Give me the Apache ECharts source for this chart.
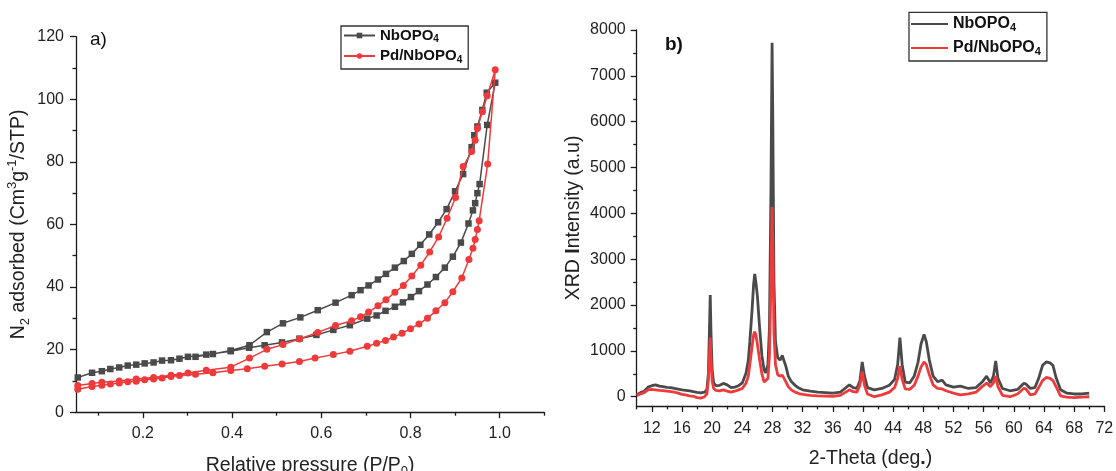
<!DOCTYPE html>
<html>
<head>
<meta charset="utf-8">
<script src="https://cdn.jsdelivr.net/npm/echarts@6/dist/echarts.min.js"></script>
<style>
html,body{margin:0;padding:0;background:#fff;}
#chart{width:1116px;height:471px;}
</style>
</head>
<body>
<div id="chart"></div>
<script>
// ---------- (a) N2 isotherms ----------
const nbAdsX = [0.054,0.086,0.108,0.127,0.147,0.166,0.185,0.204,0.224,0.243,0.263,0.282,0.301,0.342,0.397,0.438,0.473,0.512,0.551,0.589,0.627,0.664,0.703,0.724,0.744,0.765,0.783,0.801,0.819,0.838,0.857,0.877,0.895,0.913,0.930,0.940,0.945,0.950,0.955,0.972,0.990];
const nbAdsY = [11.1,12.6,13.1,13.8,14.3,14.9,15.2,15.6,15.9,16.5,16.6,17.1,17.7,18.4,19.5,20.6,21.4,22.3,23.5,24.7,26.3,27.8,29.9,30.9,32.4,33.7,35.1,36.8,38.7,40.8,43.2,46.2,49.7,54.2,60.3,64.5,66.8,70.0,72.9,91.8,105.3];
const nbDesX = [0.971,0.961,0.950,0.943,0.937,0.918,0.900,0.881,0.862,0.842,0.822,0.803,0.785,0.765,0.745,0.727,0.706,0.688,0.668,0.632,0.592,0.553,0.514,0.478,0.439,0.397,0.357,0.318];
const nbDesY = [102.1,96.6,91.3,88.5,84.7,76.1,70.6,64.9,60.7,56.8,53.5,50.6,48.3,46.2,44.2,42.4,40.5,39.0,37.4,35.0,32.6,30.3,28.4,25.6,21.4,19.7,18.6,17.7];

const pdAdsX = [0.054,0.086,0.108,0.127,0.147,0.166,0.185,0.204,0.224,0.243,0.263,0.282,0.318,0.357,0.397,0.434,0.473,0.512,0.551,0.586,0.627,0.664,0.703,0.724,0.744,0.762,0.781,0.800,0.819,0.838,0.857,0.877,0.895,0.915,0.931,0.940,0.945,0.950,0.954,0.973,0.990];
const pdAdsY = [7.3,8.2,8.6,9.0,9.3,9.7,9.9,10.4,10.6,10.9,11.4,11.7,12.1,12.6,13.3,13.9,14.7,15.4,16.2,17.3,18.4,19.5,21.1,22.0,22.9,24.0,25.2,26.7,28.2,30.0,32.4,35.0,38.5,42.9,48.8,52.4,55.2,58.4,61.2,79.3,109.4];
const pdDesX = [0.972,0.961,0.950,0.945,0.937,0.918,0.901,0.882,0.863,0.843,0.823,0.803,0.784,0.765,0.745,0.727,0.706,0.688,0.668,0.632,0.592,0.551,0.514,0.478,0.439,0.397,0.342,0.301,0.263,0.224,0.185,0.147,0.108,0.086,0.054];
const pdDesY = [101.1,96.0,90.7,86.9,83.3,78.5,68.6,62.0,56.0,51.2,47.0,43.5,40.5,38.3,35.9,34.0,32.0,30.5,29.2,27.7,25.5,23.4,21.6,20.1,17.3,14.4,13.4,12.5,11.8,11.1,10.6,10.0,9.6,9.2,8.5];

const isoMajorX = [0.2,0.4,0.6,0.8,1.0];
const isoMinorX = [0.1,0.3,0.5,0.7,0.9,1.1];

// ---------- (b) XRD ----------
const theta = [10.0,10.5,11.0,11.5,12.0,12.5,13.0,13.5,14.0,14.5,
15.0,15.5,16.0,16.5,17.0,17.5,18.0,18.5,19.0,19.3,
19.5,19.65,19.75,19.85,20.0,20.2,20.5,21.0,21.5,22.0,
22.5,23.0,23.5,24.0,24.5,24.8,25.0,25.3,25.5,25.65,
25.8,26.0,26.3,26.6,26.9,27.1,27.4,27.6,27.8,27.95,
28.05,28.2,28.4,28.7,29.0,29.3,29.5,29.8,30.1,30.5,
31.0,31.5,32.0,33.0,34.0,35.0,36.0,37.0,37.6,38.2,
38.7,39.2,39.6,39.9,40.2,40.6,41.5,42.5,43.5,44.2,
44.6,44.9,45.2,45.6,46.2,46.8,47.3,47.7,48.1,48.4,
48.8,49.3,49.9,50.5,51.0,52.0,52.9,54.0,55.0,55.8,
56.4,56.9,57.3,57.6,57.9,58.5,59.5,60.5,61.3,61.6,
62.2,62.8,63.3,63.8,64.3,64.8,65.2,65.6,66.2,67.0,
68.0,69.0,70.0];
const xrdNb = [40,90,120,210,240,260,230,220,205,200,
180,165,150,140,130,110,95,85,100,150,
500,1500,2220,1400,600,300,240,250,290,260,
200,210,240,300,520,800,1200,1900,2450,2680,
2500,2200,1500,900,580,520,700,1500,4500,7720,
6000,2500,1200,850,800,900,880,650,450,330,
250,190,150,120,100,90,80,100,180,260,
200,180,350,760,450,200,150,180,250,380,
700,1290,700,320,300,450,750,1150,1360,1200,
800,450,330,360,260,210,230,180,200,320,
450,300,450,780,400,180,130,160,290,280,
180,200,400,680,760,740,680,420,150,80,
60,60,80];
const xrdPd = [30,60,90,150,160,150,140,135,120,110,
100,80,50,40,20,10,-20,-30,0,60,
350,900,1290,800,350,180,140,130,150,120,
100,120,150,180,300,450,700,1100,1350,1420,
1350,1150,800,500,320,290,400,900,2500,4140,
3200,1400,700,480,450,470,430,320,220,150,
100,70,50,30,20,15,10,30,90,150,
110,100,250,550,250,60,0,40,100,200,
400,670,380,170,160,250,450,650,760,700,
480,260,180,170,130,80,40,60,100,220,
300,220,300,450,220,30,0,60,180,170,
40,60,200,350,420,400,350,220,20,-10,
-20,-10,0];

const xrdMajorX = [12,16,20,24,28,32,36,40,44,48,52,56,60,64,68,72];
const xrdMinorX = [10,14,18,22,26,30,34,38,42,46,50,54,58,62,66,70];
const xrdMajorY = [0,1000,2000,3000,4000,5000,6000,7000,8000];
const xrdMinorY = [500,1500,2500,3500,4500,5500,6500,7500];

// ---------- build ----------
function zip(xs, ys){ return xs.map((x,i)=>[x, ys[i]]); }
const FONT = 'Liberation Sans, Arial, sans-serif';
const GRAY = '#4a4a4a', RED = '#ef3a3c', AX = '#1a1a1a';

const nameRich = {
  n:{fontSize:19.5,fontFamily:FONT,color:'#222',lineHeight:26},
  b:{fontSize:19.5,fontFamily:FONT,color:'#222',fontWeight:'bold',lineHeight:26},
  sub:{fontSize:13,fontFamily:FONT,color:'#222',lineHeight:13,verticalAlign:'bottom'},
  sup:{fontSize:13,fontFamily:FONT,color:'#222',lineHeight:13,verticalAlign:'top'}
};
const legRich = (fs)=>({
  t:{fontSize:fs,fontFamily:FONT,fontWeight:'bold',color:'#111',lineHeight:18},
  s:{fontSize:Math.round(fs*0.66),fontFamily:FONT,fontWeight:'bold',color:'#111',lineHeight:9,verticalAlign:'bottom'}
});
function legFmt(name){
  const base = name.replace(/ \(.\)$/,'').replace(/4$/,'');
  return '{t|' + base + '}{s|4}';
}
const labelStyle = {color:'#222',fontSize:16,fontFamily:FONT};

const option = {
  backgroundColor:'#fff',
  animation:false,
  grid:[
    {left:76, top:36.7, width:468.3, height:375.5, outerBoundsMode:'none', containLabel:false},
    {left:636.7, top:30, width:467.6, height:375.9, outerBoundsMode:'none', containLabel:false}
  ],
  xAxis:[
    {gridIndex:0, type:'value', min:0.05, max:1.1, position:'bottom',
     name:'{n|Relative pressure (P/P}{sub|0}{n|)}', nameLocation:'middle', nameGap:40,
     nameTextStyle:{rich:nameRich},
     axisLine:{onZero:false, lineStyle:{color:AX,width:1.3}},
     axisTick:{customValues:isoMajorX, length:6, lineStyle:{color:AX,width:1.3}},
     axisLabel:Object.assign({customValues:isoMajorX, margin:13, formatter:v=>v.toFixed(1)}, labelStyle),
     splitLine:{show:false}},
    {gridIndex:0, type:'value', min:0.05, max:1.1, position:'bottom',
     axisLine:{show:false, onZero:false},
     axisTick:{customValues:isoMinorX, length:3.5, lineStyle:{color:AX,width:1.3}},
     axisLabel:{show:false}, splitLine:{show:false}},
    {gridIndex:1, type:'value', min:10, max:72, position:'bottom',
     name:'{n|2-Theta (deg}{b|.}{n|)}', nameLocation:'middle', nameGap:40,
     nameTextStyle:{rich:nameRich},
     axisLine:{onZero:false, lineStyle:{color:AX,width:1.3}},
     axisTick:{customValues:xrdMajorX, length:6, lineStyle:{color:AX,width:1.3}},
     axisLabel:Object.assign({customValues:xrdMajorX, margin:15, formatter:v=>String(v)}, labelStyle),
     splitLine:{show:false}},
    {gridIndex:1, type:'value', min:10, max:72, position:'bottom',
     axisLine:{show:false, onZero:false},
     axisTick:{customValues:xrdMinorX, length:3.5, lineStyle:{color:AX,width:1.3}},
     axisLabel:{show:false}, splitLine:{show:false}}
  ],
  yAxis:[
    {gridIndex:0, type:'value', min:0, max:120, interval:20, position:'left',
     name:'{n|N}{sub|2}{n| adsorbed (Cm}{sup|3}{n|g}{sup|-1}{n|/STP)}', nameLocation:'middle', nameGap:44,
     nameTextStyle:{rich:nameRich},
     axisLine:{show:true, onZero:false, lineStyle:{color:AX,width:1.3}},
     axisTick:{show:true, length:6, lineStyle:{color:AX,width:1.3}},
     minorTick:{show:true, splitNumber:2, length:3.5, lineStyle:{color:AX,width:1.3}},
     axisLabel:Object.assign({margin:12}, labelStyle),
     splitLine:{show:false}},
    {gridIndex:1, type:'value', min:-200, max:8000, position:'left',
     name:'{n|XRD }{b|I}{n|ntensity (a.u)}', nameLocation:'middle', nameGap:50,
     nameTextStyle:{rich:nameRich},
     axisLine:{show:true, onZero:false, lineStyle:{color:AX,width:1.3}},
     axisTick:{show:true, customValues:xrdMajorY, length:6, lineStyle:{color:AX,width:1.3}},
     axisLabel:Object.assign({customValues:xrdMajorY, margin:11, formatter:v=>String(v)}, labelStyle),
     splitLine:{show:false}},
    {gridIndex:1, type:'value', min:-200, max:8000, position:'left',
     axisLine:{show:false, onZero:false},
     axisTick:{show:true, customValues:xrdMinorY, length:3.5, lineStyle:{color:AX,width:1.3}},
     axisLabel:{show:false}, splitLine:{show:false}}
  ],
  legend:[
    {orient:'vertical', left:341, top:26, padding:[2,6,4,2], itemGap:4,
     itemWidth:31, itemHeight:7, align:'left',
     borderColor:'#333', borderWidth:1.3,
     data:['NbOPO4 (a)','Pd/NbOPO4 (a)'], formatter:legFmt,
     textStyle:{rich:legRich(15)}},
    {orient:'vertical', left:909, top:12.3, padding:[3.7,6,4,2], itemGap:7,
     itemWidth:37, itemHeight:2, align:'left', icon:'rect',
     borderColor:'#333', borderWidth:1.3,
     data:['NbOPO4 (b)','Pd/NbOPO4 (b)'], formatter:legFmt,
     textStyle:{rich:legRich(16)}}
  ],
  graphic:[
    {type:'text', left:90, top:30, style:{text:'a)', fontSize:19, fontFamily:FONT, fill:'#111'}},
    {type:'text', left:665, top:35, style:{text:'b)', fontSize:19, fontWeight:'bold', fontFamily:FONT, fill:'#111'}}
  ],
  series:[
    {name:'NbOPO4 (a)', type:'line', xAxisIndex:0, yAxisIndex:0,
     data: zip(nbAdsX, nbAdsY).concat(zip(nbDesX, nbDesY)),
     symbol:'rect', symbolSize:6.5, showAllSymbol:true,
     lineStyle:{color:GRAY,width:1.5}, itemStyle:{color:GRAY}, z:2},
    {name:'Pd/NbOPO4 (a)', type:'line', xAxisIndex:0, yAxisIndex:0,
     data: zip(pdAdsX, pdAdsY).concat(zip(pdDesX, pdDesY)),
     symbol:'circle', symbolSize:7, showAllSymbol:true,
     lineStyle:{color:RED,width:1.5}, itemStyle:{color:RED}, z:3},
    {name:'NbOPO4 (b)', type:'line', xAxisIndex:2, yAxisIndex:1,
     data: zip(theta, xrdNb), symbol:'none',
     lineStyle:{color:GRAY,width:2.8}, itemStyle:{color:GRAY}, z:2},
    {name:'Pd/NbOPO4 (b)', type:'line', xAxisIndex:2, yAxisIndex:1,
     data: zip(theta, xrdPd), symbol:'none',
     lineStyle:{color:RED,width:2.8}, itemStyle:{color:RED}, z:3}
  ]
};
const chart = echarts.init(document.getElementById('chart'), null, {renderer:'canvas'});
chart.setOption(option);
</script>
</body>
</html>
